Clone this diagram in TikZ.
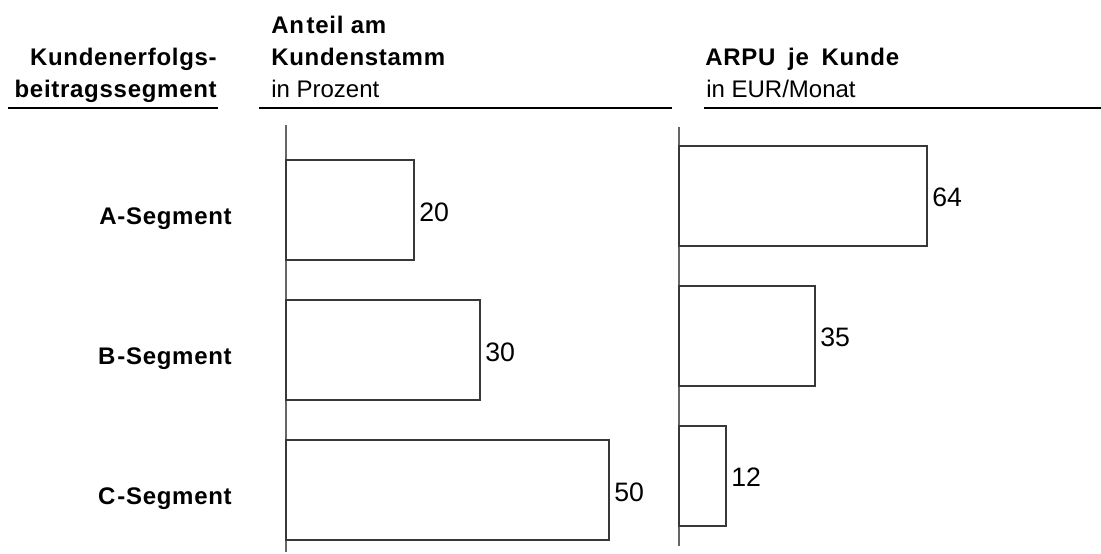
\documentclass[tikz,border=0pt]{standalone}
\usepackage{fontspec}
\setmainfont{Liberation Sans}
\newfontfamily\headfont[LetterSpace=3]{Liberation Sans}
\begin{document}
\begin{tikzpicture}[x=0.75pt,y=-0.75pt,
  head/.style={font=\headfont\bfseries\fontsize{18}{20}\selectfont, inner sep=0},
  sub/.style={font=\fontsize{18}{20}\selectfont, inner sep=0},
  seglabel/.style={font=\headfont\bfseries\fontsize{18}{20}\selectfont, inner sep=0, anchor=base east},
  val/.style={font=\fontsize{20}{22}\selectfont, inner sep=0, anchor=west},
  rule/.style={line width=2pt, black},
  axis/.style={line width=1pt, black!60},
  bar/.style={draw=black!78, line width=0.8pt}]
\useasboundingbox (0,0) rectangle (1101,554);

% column headings
\node[head, anchor=base east] (h1a) at (217,65) {Kundenerfolgs-};
\node[head, anchor=base east] (h1b) at (217,97) {beitragssegment};
\node[head, anchor=base west] (h2a) at (271,33) {An\kern2pt teil am};
\node[head, anchor=base west] (h2b) at (271,65) {Kundenstamm};
\node[sub,  anchor=base west] (h2c) at (271,97) {in Prozent};
\node[head, anchor=base west] (h3a) at (705,65) {ARPU\kern4pt{} je\kern4pt{} Kunde};
\node[sub,  anchor=base west] (h3b) at (706,97) {in EUR/Monat};

% heading rules
\draw[rule] (8,108) -- (218,108);
\draw[rule] (259,108) -- (672,108);
\draw[rule] (704,108) -- (1101,108);

% value axes
\draw[axis] (286,125) -- (286,552);
\draw[axis] (679,127) -- (679,546);

% share of customer base (6.4 px per percent)
\draw[bar] (286,160) rectangle (414,260);
\draw[bar] (286,300) rectangle (480,400);
\draw[bar] (286,440) rectangle (609,540);
\node[val] (p20) at (419,212) {20};
\node[val] (p30) at (485,352) {30};
\node[val] (p50) at (614,492) {50};

% ARPU per customer (3.9 px per EUR)
\draw[bar] (679,146) rectangle (927,246);
\draw[bar] (679,286) rectangle (815,386);
\draw[bar] (679,426) rectangle (726,526);
\node[val] (e64) at (932,197) {64};
\node[val] (e35) at (820,337) {35};
\node[val] (e12) at (731,477) {12};

% segment labels
\node[seglabel] (sa) at (232,224) {A-Segment};
\node[seglabel] (sb) at (232,364) {B\kern1.5pt-Segment};
\node[seglabel] (sc) at (232,504) {C\kern1.5pt-Segment};
\end{tikzpicture}
\end{document}
